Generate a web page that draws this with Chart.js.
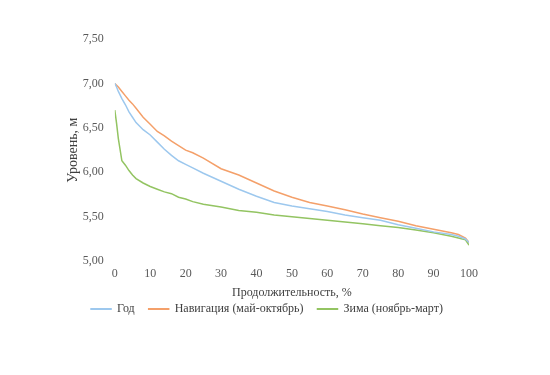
<!DOCTYPE html>
<html>
<head>
<meta charset="utf-8">
<script src="https://cdn.jsdelivr.net/npm/chart.js@4/dist/chart.umd.min.js"></script>
<style>
  html, body { margin: 0; padding: 0; background: #fff; }
  #wrap { width: 550px; height: 375px; }
</style>
</head>
<body>
<div id="wrap"><canvas id="durationChart"></canvas></div>
<script>
// продолжительность, %
const pct = [0, 0.5, 1, 2, 3, 4, 5, 6, 8, 10, 12, 14, 16, 18, 20, 22, 25, 30, 35, 40, 45, 50, 55, 60, 65, 70, 75, 80, 85, 90, 95, 97, 99, 100];

// уровень, м
const yearLevels = [7.00, 6.96, 6.91, 6.83, 6.76, 6.68, 6.62, 6.56, 6.48, 6.42, 6.34, 6.26, 6.19, 6.13, 6.09, 6.05, 5.99, 5.90, 5.81, 5.73, 5.66, 5.62, 5.59, 5.56, 5.52, 5.49, 5.46, 5.41, 5.37, 5.33, 5.30, 5.28, 5.25, 5.21];
const navLevels = [7.00, 6.98, 6.96, 6.91, 6.86, 6.81, 6.77, 6.72, 6.62, 6.54, 6.46, 6.41, 6.35, 6.30, 6.25, 6.22, 6.16, 6.04, 5.97, 5.88, 5.79, 5.72, 5.66, 5.62, 5.58, 5.53, 5.49, 5.45, 5.40, 5.36, 5.32, 5.30, 5.26, 5.21];
const winterLevels = [6.70, 6.55, 6.38, 6.13, 6.08, 6.02, 5.97, 5.93, 5.88, 5.84, 5.81, 5.78, 5.76, 5.72, 5.70, 5.67, 5.64, 5.61, 5.57, 5.55, 5.52, 5.50, 5.48, 5.46, 5.44, 5.42, 5.40, 5.38, 5.35, 5.32, 5.28, 5.26, 5.24, 5.18];

const seriesNames = ["Год", "Навигация (май-октябрь)", "Зима (ноябрь-март)"];
const seriesColors = ["#9dc8ee", "#f4a06a", "#93c462"];

const toPoints = vals => vals.map((v, i) => ({ x: pct[i], y: v }));

const ctx = document.getElementById('durationChart').getContext('2d');

new Chart(ctx, {
    type: 'line',
    data: {
        datasets: [yearLevels, navLevels, winterLevels].map((vals, i) => ({
            label: seriesNames[i],
            data: toPoints(vals),
            borderColor: seriesColors[i],
            backgroundColor: seriesColors[i],
            borderWidth: 1.5,
            pointRadius: 0,
            tension: 0
        }))
    },
    options: {
        responsive: true,
        maintainAspectRatio: false,
        animation: false,
        layout: {
            padding: { left: 65, right: 81, top: 39, bottom: 50 }
        },
        plugins: {
            tooltip: { enabled: false },
            legend: {
                position: 'bottom',
                labels: {
                    boxWidth: 20,
                    boxHeight: 0.5,
                    padding: 14,
                    color: '#404040',
                    font: { family: 'Liberation Serif', size: 12 }
                }
            }
        },
        scales: {
            x: {
                type: 'linear',
                min: 0,
                max: 100,
                grid: { display: false, drawTicks: false },
                border: { display: false },
                ticks: {
                    stepSize: 10,
                    color: '#595959',
                    padding: 5,
                    font: { family: 'Liberation Serif', size: 12 }
                },
                title: {
                    display: true,
                    text: "Продолжительность, %",
                    color: '#404040',
                    padding: { top: 0, bottom: -11 },
                    font: { family: 'Liberation Serif', size: 12 }
                }
            },
            y: {
                min: 5,
                max: 7.5,
                grid: { display: false, drawTicks: false },
                border: { display: false },
                ticks: {
                    stepSize: 0.5,
                    color: '#595959',
                    padding: 11,
                    font: { family: 'Liberation Serif', size: 12 },
                    callback: v => v.toFixed(2).replace('.', ',')
                },
                title: {
                    display: true,
                    text: "Уровень, м",
                    color: '#404040',
                    padding: { top: 0, bottom: -10 },
                    font: { family: 'Liberation Serif', size: 14 }
                }
            }
        }
    }
});
</script>
</body>
</html>
